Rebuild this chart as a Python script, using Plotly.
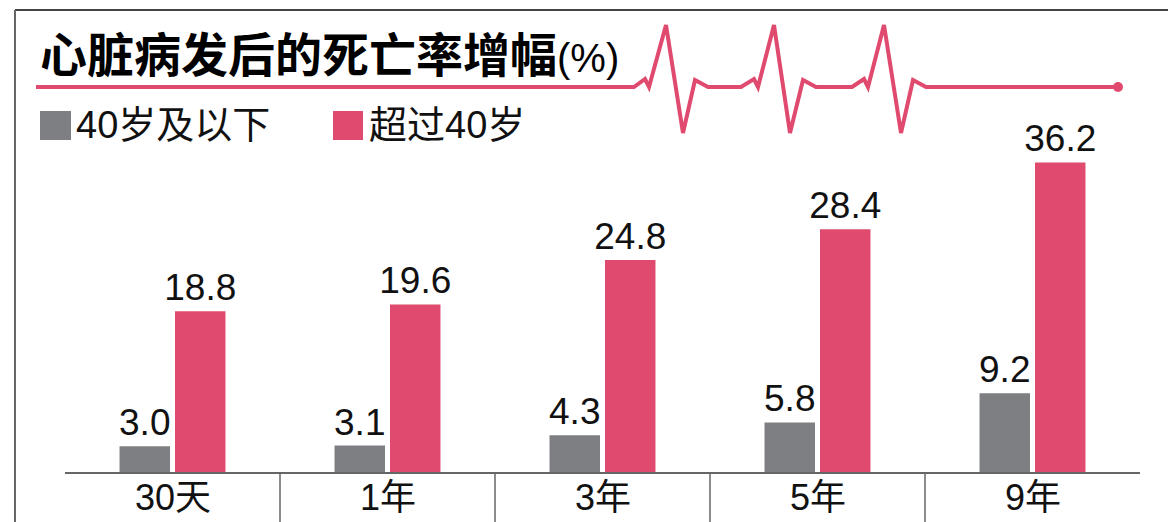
import plotly.graph_objects as go

categories = ["30天", "1年", "3年", "5年", "9年"]
series_names = ["40岁及以下", "超过40岁"]
young = [3.0, 3.1, 4.3, 5.8, 9.2]
older = [18.8, 19.6, 24.8, 28.4, 36.2]
title_main = "心脏病发后的死亡率增幅"
title_unit = "(%)"

GRAY = "#7d7f82"
PINK = "#e04a6e"
W, H = 1168, 522
ML, MR, MT, MB = 65, 28, 130, 50
PW, PH = W - ML - MR, H - MT - MB

def px(x):
    return (x - ML) / PW

def py(y):
    return (H - MB - y) / PH

LABEL_FONT = "Liberation Sans, Arial, Noto Sans CJK SC"
CJK_FONT = "Liberation Sans, Noto Sans CJK SC"

fig = go.Figure()
for name, vals, col in [(series_names[0], young, GRAY), (series_names[1], older, PINK)]:
    fig.add_trace(go.Bar(
        x=categories, y=vals, name=name, marker=dict(color=col, line=dict(width=0)),
        text=[f"{v:.1f}" for v in vals], textposition="outside",
        textfont=dict(family=LABEL_FONT, size=37, color="#111"),
        constraintext="none", cliponaxis=False, showlegend=False, hoverinfo="skip",
    ))

shapes = []
# frame
shapes.append(dict(type="line", xref="paper", yref="paper", x0=px(15), x1=px(1175), y0=py(10), y1=py(10),
                   line=dict(color="#444", width=2)))
shapes.append(dict(type="line", xref="paper", yref="paper", x0=px(15), x1=px(15), y0=py(10), y1=py(530),
                   line=dict(color="#666", width=2)))
# category separators
for i in range(len(categories) - 1):
    shapes.append(dict(type="line", xref="x", yref="paper", x0=i + 0.5, x1=i + 0.5, y0=0, y1=py(530),
                       line=dict(color="#666", width=1.5)))
# heartbeat decoration (pixel coordinates)
beat = [(36, 87), (634, 87), (645, 79), (649, 87), (666, 25), (683, 133), (695, 80), (708, 87),
        (741, 87), (754, 79), (758, 87), (774, 25), (790, 133), (803, 80), (816, 87),
        (852, 87), (864, 79), (868, 87), (884, 25), (901, 133), (913, 80), (926, 87), (1118, 87)]
path = "M " + " L ".join(f"{px(a):.5f},{py(b):.5f}" for a, b in beat)
shapes.append(dict(type="path", xref="paper", yref="paper", path=path,
                   line=dict(color=PINK, width=4)))
shapes.append(dict(type="circle", xref="paper", yref="paper", x0=px(1113), x1=px(1123), y0=py(82), y1=py(92),
                   fillcolor=PINK, line=dict(width=0)))
# legend squares
shapes.append(dict(type="rect", xref="paper", yref="paper", x0=px(40), x1=px(71), y0=py(111), y1=py(140),
                   fillcolor=GRAY, line=dict(width=0)))
shapes.append(dict(type="rect", xref="paper", yref="paper", x0=px(333), x1=px(363), y0=py(111), y1=py(140),
                   fillcolor=PINK, line=dict(width=0)))

annotations = [
    dict(xref="paper", yref="paper", x=px(38), y=py(52), xanchor="left", yanchor="middle", showarrow=False,
         text=f"<b>{title_main}</b><span style='font-family:Liberation Sans;font-size:40px;font-weight:normal'>{title_unit}</span>",
         font=dict(family="Noto Sans CJK SC", size=47, color="#000")),
    dict(xref="paper", yref="paper", x=px(74), y=py(125), xanchor="left", yanchor="middle", showarrow=False,
         text=series_names[0], font=dict(family=CJK_FONT, size=38, color="#111")),
    dict(xref="paper", yref="paper", x=px(367), y=py(125), xanchor="left", yanchor="middle", showarrow=False,
         text=series_names[1], font=dict(family=CJK_FONT, size=38, color="#111")),
]
for c in categories:
    annotations.append(dict(xref="x", yref="paper", x=c, y=py(497), xanchor="center", yanchor="middle",
                            showarrow=False, text=c, font=dict(family=CJK_FONT, size=36, color="#111")))

fig.update_layout(
    width=W, height=H, margin=dict(l=ML, r=MR, t=MT, b=MB),
    paper_bgcolor="white", plot_bgcolor="white",
    barmode="group", bargap=0.484, bargroupgap=0.09,
    shapes=shapes, annotations=annotations, showlegend=False,
)
fig.update_xaxes(range=[-0.5, 4.5], showline=True, linecolor="#666", linewidth=1.5, showgrid=False,
                 ticks="", showticklabels=False)
fig.update_yaxes(range=[0, 40], visible=False, showgrid=False, zeroline=False)

fig.write_html("out.html", config={"displayModeBar": False},
               post_script="document.body.style.margin='0';document.body.style.overflow='hidden';")
